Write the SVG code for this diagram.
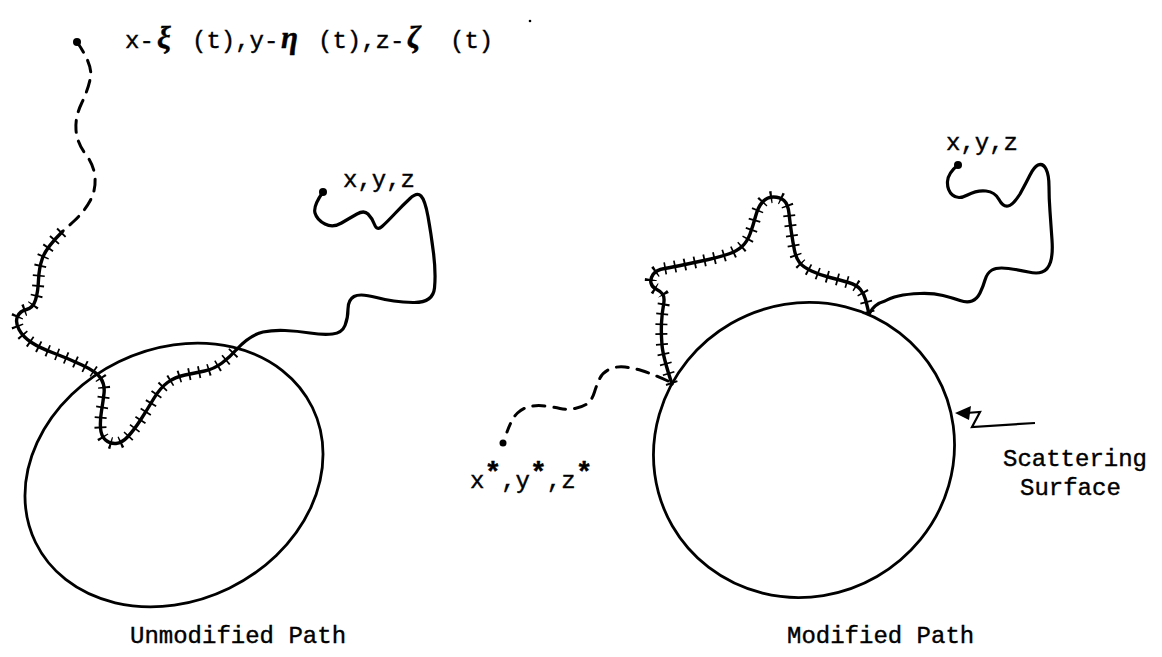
<svg xmlns="http://www.w3.org/2000/svg" width="1162" height="657" viewBox="0 0 1162 657">
<style>
.bg{fill:#fff}
.ln{fill:none;stroke:#000;stroke-width:3.2;stroke-linecap:round;stroke-linejoin:round}
.sh{fill:none;stroke:#000;stroke-width:2.8}
.ds{fill:none;stroke:#000;stroke-width:3;stroke-linecap:round;stroke-dasharray:12 9}
.hm{fill:none;stroke:#000;stroke-width:3.4;stroke-linecap:round;stroke-linejoin:round}
.ht{fill:none;stroke:#000;stroke-width:12;stroke-dasharray:1.8 8.2}
.t{font-family:"Liberation Mono","DejaVu Sans Mono",monospace;font-size:24px;fill:#000;stroke:#000;stroke-width:0.4}
.g{font-family:"Liberation Serif","DejaVu Serif",serif;font-style:italic;font-weight:bold;font-size:31px;fill:#000}
.st{font-size:28px;font-weight:bold}
.dot{fill:#000}
</style>
<rect class="bg" width="1162" height="657"/>

<g id="unmodified">
  <ellipse id="surface-left" class="sh" cx="174" cy="475" rx="154" ry="126" transform="rotate(-26 174 475)"/>
  <circle class="dot" cx="77" cy="42" r="4"/>
  <circle class="dot" cx="323" cy="192" r="4"/>
  <text class="t" x="125" y="48">x-<tspan class="g" x="157">ξ</tspan><tspan x="192">(t),y-</tspan><tspan class="g" x="281">η</tspan><tspan x="318">(t),z-</tspan><tspan class="g" x="407">ζ</tspan><tspan x="450">(t)</tspan></text>
  <text class="t" x="343" y="187">x,y,z</text>
  <text class="t" x="130" y="643">Unmodified Path</text>
</g>

<g id="modified">
  <ellipse id="surface-right" class="sh" cx="804" cy="450" rx="152" ry="146" transform="rotate(-30 804 450)"/>
  <circle class="dot" cx="958" cy="165" r="4"/>
  <circle class="dot" cx="503" cy="443" r="3.5"/>
  <text class="t" x="946" y="150">x,y,z</text>
  <text class="t" x="470" y="488">x<tspan class="st" dy="-7">*</tspan><tspan dy="7">,y</tspan><tspan class="st" dy="-7">*</tspan><tspan dy="7">,z</tspan><tspan class="st" dy="-7">*</tspan></text>
  <text class="t" x="1003" y="466">Scattering</text>
  <text class="t" x="1020" y="495">Surface</text>
  <text class="t" x="787" y="643">Modified Path</text>
</g>

<circle class="dot" cx="530" cy="21" r="1.3"/>

<g id="connectors">
  <path class="ds" d="M77,42 Q93,65 90.5,77.5 Q88,90 81.5,103.5 Q75,117 76,130 Q77,143 85.5,154 Q94,165 95,177.5 Q96,190 90,201 Q84,212 73,222 L62,232"/>
  <g id="hatch-left">
    <path class="hm" d="M62,232 Q46,248 42.5,258 Q39,268 38.5,280 Q38,292 35.5,300 Q33,308 26.5,309.5 Q20,311 17.5,316.5 Q15,322 19,329.5 Q23,337 31.5,342.5 Q40,348 53.5,353 Q67,358 82,365 Q97,372 101,378.5 Q105,385 104,393.5 Q103,402 101.5,411 Q100,420 100.5,428 Q101,436 105.5,440 Q110,444 116,443.5 Q122,443 128,436.5 Q134,430 140.5,420 Q147,410 153.5,399 Q160,388 167.5,382.5 Q175,377 185,375 Q195,373 204.5,371 Q214,369 222,363 Q230,357 237,349"/>
    <path class="ht" d="M62,232 Q46,248 42.5,258 Q39,268 38.5,280 Q38,292 35.5,300 Q33,308 26.5,309.5 Q20,311 17.5,316.5 Q15,322 19,329.5 Q23,337 31.5,342.5 Q40,348 53.5,353 Q67,358 82,365 Q97,372 101,378.5 Q105,385 104,393.5 Q103,402 101.5,411 Q100,420 100.5,428 Q101,436 105.5,440 Q110,444 116,443.5 Q122,443 128,436.5 Q134,430 140.5,420 Q147,410 153.5,399 Q160,388 167.5,382.5 Q175,377 185,375 Q195,373 204.5,371 Q214,369 222,363 Q230,357 237,349"/>
  </g>
  <path class="ln" d="M237,349 Q250,335 263,332 Q273,330 285,330.5 Q297,331 310,333 Q323,335 332.5,334 Q342,333 345,325.5 Q348,318 348,309 Q348,300 354,296.5 Q360,293 376.5,297.5 Q393,302 413,302.5 Q433,303 434.5,288 Q436,273 433.5,253 Q431,233 428,216.5 Q425,200 421,196 Q417,192 410,198.5 Q403,205 395,213.5 Q387,222 382,226.5 Q377,231 374.5,224.5 Q372,218 368,214 Q364,210 357,214 Q350,218 341.5,223 Q333,228 325,224 Q317,220 315,213 Q313,206 323,192"/>

  <path class="ds" d="M668,381 Q650,373 641.5,370.5 Q633,368 625,367 Q617,366 610,369 Q603,372 600,378 Q597,384 594.5,392 Q592,400 587.5,403.5 Q583,407 575,408.5 Q567,410 560,408.5 Q553,407 545,406 Q537,405 530,406.5 Q523,408 517.5,413 Q512,418 507,432"/>
  <g id="hatch-right">
    <path class="hm" d="M672,384 Q663,357 662,345 Q661,333 661.5,323 Q662,313 663.5,305 Q665,297 662.5,294 Q660,291 656,289 Q652,287 651,283 Q650,279 653,274.5 Q656,270 664.5,268.5 Q673,267 685,264.5 Q697,262 708.5,259.5 Q720,257 728.5,254 Q737,251 742,246.5 Q747,242 750,234 Q753,226 755.5,216.5 Q758,207 762.5,202 Q767,197 773.5,197 Q780,197 784,200.5 Q788,204 789,213.5 Q790,223 791.5,233 Q793,243 794.5,250.5 Q796,258 799.5,262.5 Q803,267 811.5,271 Q820,275 830,277.5 Q840,280 848.5,282.5 Q857,285 860.5,289.5 Q864,294 865.5,299.5 Q867,305 869,314"/>
    <path class="ht" d="M672,384 Q663,357 662,345 Q661,333 661.5,323 Q662,313 663.5,305 Q665,297 662.5,294 Q660,291 656,289 Q652,287 651,283 Q650,279 653,274.5 Q656,270 664.5,268.5 Q673,267 685,264.5 Q697,262 708.5,259.5 Q720,257 728.5,254 Q737,251 742,246.5 Q747,242 750,234 Q753,226 755.5,216.5 Q758,207 762.5,202 Q767,197 773.5,197 Q780,197 784,200.5 Q788,204 789,213.5 Q790,223 791.5,233 Q793,243 794.5,250.5 Q796,258 799.5,262.5 Q803,267 811.5,271 Q820,275 830,277.5 Q840,280 848.5,282.5 Q857,285 860.5,289.5 Q864,294 865.5,299.5 Q867,305 869,314"/>
  </g>
  <path class="ln" d="M869,314 Q874,304 885,301 Q890,298 898.5,296 Q907,294 920,293.5 Q933,293 943,295.5 Q953,298 960,300.5 Q967,303 972,301 Q977,299 980,293 Q983,287 985,280 Q987,273 992,270 Q997,267 1008.5,268.5 Q1020,270 1028.5,272 Q1037,274 1042,272 Q1048,270 1050.5,262 Q1053,254 1052,240 Q1051,225 1050,211.5 Q1049,198 1049,186.5 Q1049,175 1046,169 Q1043,163 1038,165 Q1034,167 1030,175 Q1026,183 1020,194 Q1013,205 1008,206 Q1003,207 999,199.5 Q995,192 986,191 Q977,190 967.5,195 Q958,200 952.5,195 Q947,190 947.5,181.5 Q948,173 958,165"/>

  <g id="surface-pointer">
    <polyline fill="none" stroke="#000" stroke-width="2.2" stroke-linejoin="miter" points="966,413 980,412 972,427 1035,423"/>
    <polygon fill="#000" points="955,413 971,406 969,420"/>
  </g>
</g>
</svg>
